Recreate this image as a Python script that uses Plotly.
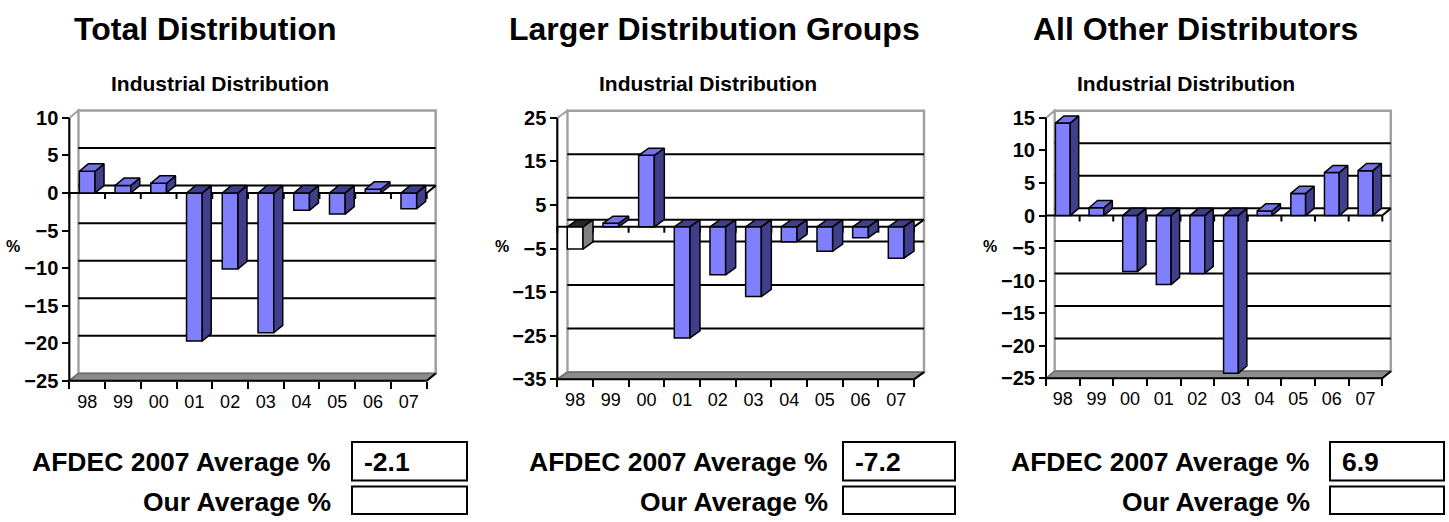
import plotly.graph_objects as go

# ---- data -------------------------------------------------------------
years = ["98", "99", "00", "01", "02", "03", "04", "05", "06", "07"]

total_distribution = [2.9, 1.0, 1.3, -19.7, -10.1, -18.6, -2.3, -2.8, 0.5, -2.1]
larger_groups = [-5.1, 0.8, 16.4, -25.5, -11.0, -16.0, -3.4, -5.6, -2.5, -7.2]
other_distributors = [14.2, 1.2, -8.6, -10.6, -8.9, -24.2, 0.7, 3.4, 6.6, 6.9]

panel_titles = ["Total Distribution", "Larger Distribution Groups", "All Other Distributors"]
chart_subtitle = "Industrial Distribution"
afdec_averages = ["-2.1", "-7.2", "6.9"]

ticks_total = [-25, -20, -15, -10, -5, 0, 5, 10]
ticks_larger = [-35, -25, -15, -5, 5, 15, 25]
ticks_other = [-25, -20, -15, -10, -5, 0, 5, 10, 15]

# ---- styling ----------------------------------------------------------
W, H = 1449, 522
FONT = "Liberation Sans, Arial, sans-serif"
FRONT = "#8080FF"
SIDE = "#3F3F8C"
TOP = "#7373E6"
WALL_EDGE = "#A0A0A0"
FLOOR = "#8C8C8C"
BAR_W = 0.44

# per-panel frame geometry in pixels: front plane + depth offset
panels = [
    dict(vals=total_distribution, ticks=ticks_total, axL=69.3, axR=426.7,
         ytop=119.5, ybot=386.0, dx=9.0, dy=7.5,
         title_x=205, sub_x=220, pct_x=13, lab_r=333, box_l=352, box_r=467,
         colors=None),
    dict(vals=larger_groups, ticks=ticks_larger, axL=557.3, axR=914.0,
         ytop=119.5, ybot=384.5, dx=10.0, dy=7.3,
         title_x=714, sub_x=708, pct_x=502, lab_r=830, box_l=843, box_r=955,
         colors=("#FFFFFF", "#808080", "#262626")),
    dict(vals=other_distributors, ticks=ticks_other, axL=1046.0, axR=1382.3,
         ytop=119.5, ybot=383.5, dx=8.5, dy=7.3,
         title_x=1195, sub_x=1186, pct_x=990, lab_r=1312, box_l=1330, box_r=1444,
         colors=None),
]


def fx(px):
    return px / W


def fy(py):
    return 1 - py / H


fig = go.Figure()
shapes = []
annotations = []
PAD = 4

for k, p in enumerate(panels, start=1):
    vals = p["vals"]
    ticks = p["ticks"]
    ymin, ymax = min(ticks), max(ticks)
    n = len(years)
    pxc = (p["axR"] - p["axL"]) / n
    pxu = (p["ybot"] - p["ytop"]) / (ymax - ymin)
    ddx = p["dx"] / pxc
    ddy = p["dy"] / pxu
    xa = "x" if k == 1 else f"x{k}"
    ya = "y" if k == 1 else f"y{k}"
    xl, xr = -0.5, n - 0.5

    fig.layout[f"xaxis{'' if k == 1 else k}"] = dict(
        domain=[fx(p["axL"] - PAD), fx(p["axR"] + p["dx"] + PAD)],
        range=[xl - PAD / pxc, xr + (p["dx"] + PAD) / pxc],
        anchor="free", position=fy(p["ybot"]),
        tickvals=list(range(n)), ticktext=years, ticks="", ticklen=0,
        ticklabelstandoff=8,
        minor=dict(tickvals=[i - 0.5 for i in range(n + 1)], ticks="outside",
                   ticklen=7, tickwidth=2, tickcolor="black", showgrid=False),
        tickfont=dict(family=FONT, size=18, color="black"),
        showgrid=False, zeroline=False, showline=False, fixedrange=True,
    )
    fig.layout[f"yaxis{'' if k == 1 else k}"] = dict(
        domain=[fy(p["ybot"] + PAD), fy(p["ytop"] - p["dy"] - PAD)],
        range=[ymin - PAD / pxu, ymax + (p["dy"] + PAD) / pxu],
        anchor="free", position=fx(p["axL"]),
        tickvals=ticks, ticks="outside", ticklen=7, tickwidth=2, tickcolor="black",
        tickfont=dict(family=FONT, size=20, color="black", weight="bold"),
        showgrid=False, zeroline=False, showline=False, fixedrange=True,
    )

    def seg(x0, y0, x1, y1, color="black", width=2):
        shapes.append(dict(type="line", xref=xa, yref=ya, x0=x0, y0=y0, x1=x1, y1=y1,
                           line=dict(color=color, width=width), layer="below"))

    def poly(pts, fill, color, width=2):
        path = "M " + " L ".join(f"{a},{b}" for a, b in pts) + " Z"
        shapes.append(dict(type="path", xref=xa, yref=ya, path=path, fillcolor=fill,
                           line=dict(color=color, width=width), layer="below"))

    # walls and floor
    poly([(xl + ddx, ymin + ddy), (xr + ddx, ymin + ddy), (xr + ddx, ymax + ddy),
          (xl + ddx, ymax + ddy)], "white", WALL_EDGE, 2.5)
    poly([(xl, ymin), (xl, ymax), (xl + ddx, ymax + ddy), (xl + ddx, ymin + ddy)],
         "white", WALL_EDGE, 2)
    poly([(xl, ymin), (xr, ymin), (xr + ddx, ymin + ddy), (xl + ddx, ymin + ddy)],
         FLOOR, "#6E6E6E", 1.5)

    # gridlines on the back wall, zero line included
    grid_vals = sorted(set([t for t in ticks if ymin < t < ymax] + [0]))
    for g in grid_vals:
        seg(xl + ddx, g + ddy, xr + ddx, g + ddy)

    # category axis plane at zero
    seg(xl, 0, xr, 0)
    seg(xr, 0, xr + ddx, ddy)
    for i in range(n + 1):
        seg(i - 0.5, 0, i - 0.5, -6 / pxu)

    # front frame edges
    seg(xl, ymin, xl, ymax)
    seg(xl, ymin, xr, ymin)
    seg(xr, ymin, xr + ddx, ymin + ddy)

    # bar front faces; the cap of a downward bar is seen in shadow
    fronts = [FRONT] * n
    sides = [SIDE] * n
    tops = [TOP if v > 0 else SIDE for v in vals]
    if p["colors"]:
        fronts[0], sides[0], tops[0] = p["colors"]
    fig.add_trace(go.Bar(
        x=list(range(n)), y=vals, width=BAR_W, xaxis=xa, yaxis=ya,
        marker=dict(color=fronts, line=dict(color="black", width=1.5)),
        hovertext=years, showlegend=False,
    ))

    # side and top faces, grouped by colour
    groups = {}
    for i, v in enumerate(vals):
        r = i + BAR_W / 2
        l = i - BAR_W / 2
        side = [(r, 0), (r, v), (r + ddx, v + ddy), (r + ddx, ddy)]
        yt = max(v, 0)
        top = [(l, yt), (r, yt), (r + ddx, yt + ddy), (l + ddx, yt + ddy)]
        groups.setdefault(sides[i], []).append(side)
        groups.setdefault(tops[i], []).append(top)
    for color, polys in groups.items():
        xs, ys = [], []
        for pts in polys:
            xs += [a for a, _ in pts] + [pts[0][0], None]
            ys += [b for _, b in pts] + [pts[0][1], None]
        fig.add_trace(go.Scatter(
            x=xs, y=ys, xaxis=xa, yaxis=ya, mode="lines", fill="toself",
            fillcolor=color, line=dict(color="black", width=1.5),
            hoverinfo="skip", showlegend=False,
        ))

    # headings
    annotations.append(dict(text=f"<b>{panel_titles[k - 1]}</b>", x=fx(p["title_x"]),
                            y=fy(29), xref="paper", yref="paper", showarrow=False,
                            xanchor="center", yanchor="middle",
                            font=dict(family=FONT, size=32, color="black")))
    annotations.append(dict(text=f"<b>{chart_subtitle}</b>", x=fx(p["sub_x"]),
                            y=fy(85), xref="paper", yref="paper", showarrow=False,
                            xanchor="center", yanchor="middle",
                            font=dict(family=FONT, size=21, color="black")))
    annotations.append(dict(text="<b>%</b>", x=fx(p["pct_x"]), y=fy(250),
                            xref="paper", yref="paper", showarrow=False,
                            xanchor="center", yanchor="middle",
                            font=dict(family=FONT, size=16, color="black")))

    # average rows
    annotations.append(dict(text="<b>AFDEC 2007 Average %</b>", x=fx(p["lab_r"]),
                            y=fy(468), xref="paper", yref="paper", showarrow=False,
                            xanchor="right", yanchor="middle",
                            font=dict(family=FONT, size=26.5, color="black")))
    annotations.append(dict(text="<b>Our Average %</b>", x=fx(p["lab_r"]),
                            y=fy(509), xref="paper", yref="paper", showarrow=False,
                            xanchor="right", yanchor="middle",
                            font=dict(family=FONT, size=26.5, color="black")))
    annotations.append(dict(text=f"<b>{afdec_averages[k - 1]}</b>",
                            x=fx(p["box_l"] + 10), y=fy(468), xref="paper",
                            yref="paper", showarrow=False, xanchor="left",
                            yanchor="middle",
                            font=dict(family=FONT, size=26.5, color="black")))
    for y0, y1 in [(448, 487), (493, 521)]:
        shapes.append(dict(type="rect", xref="paper", yref="paper",
                           x0=fx(p["box_l"]), x1=fx(p["box_r"]), y0=fy(y1), y1=fy(y0),
                           line=dict(color="black", width=2), fillcolor="white"))

fig.update_layout(
    width=W, height=H, margin=dict(l=0, r=0, t=0, b=0),
    paper_bgcolor="white", plot_bgcolor="rgba(0,0,0,0)",
    barmode="overlay", showlegend=False,
    shapes=shapes, annotations=annotations,
)

fig.write_html("out.html")
